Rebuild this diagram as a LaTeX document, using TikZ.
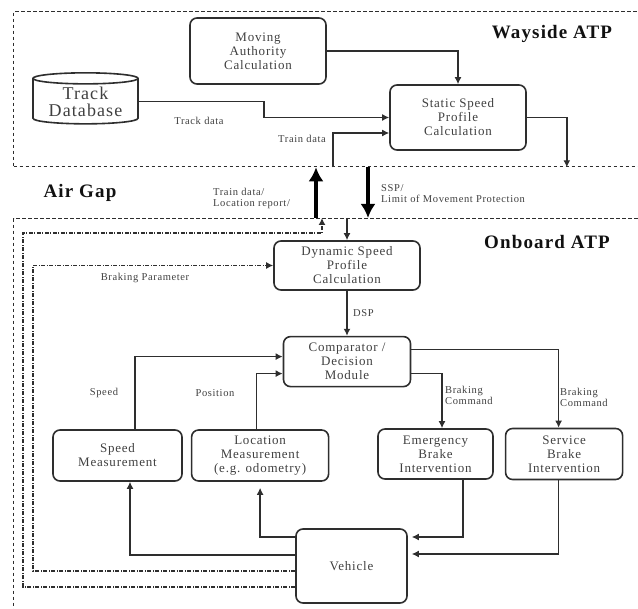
\documentclass[tikz,border=0pt]{standalone}
\usepackage{fontspec}
\setmainfont{Liberation Serif}
\newfontfamily\atpfont[LetterSpace=6]{Liberation Serif}
\usepackage{tikz}
\usetikzlibrary{arrows.meta, positioning, shapes.geometric}
\definecolor{linecolor}{HTML}{2E2E2E}
\definecolor{boxtext}{HTML}{404040}
\definecolor{titlecolor}{HTML}{111111}

\begin{document}
\begin{tikzpicture}[
  x=1pt, y=-1pt,
  box/.style={
    rectangle, rounded corners=7pt, draw=linecolor, line width=1.6pt,
    align=center, inner sep=1pt, text=boxtext,
    font=\atpfont\fontsize{13}{14}\selectfont
  },
  lbl/.style={text=boxtext, inner sep=1pt, font=\atpfont\fontsize{10.5}{11}\selectfont},
  zone/.style={draw=linecolor, line width=1.3pt, dash pattern=on 3.5pt off 2.5pt,
    anchor=north west, inner sep=0pt},
  feedback/.style={-{Latex[length=7pt,width=7pt]}, line width=1.3pt, draw=linecolor,
    dash pattern=on 4pt off 1.5pt on 1pt off 1.5pt},
  title/.style={font=\atpfont\fontsize{19}{20}\selectfont\bfseries, text=titlecolor},
  arr/.style={-{Latex[length=7pt,width=7pt]}, line width=1.5pt, draw=linecolor},
  fat/.style={-{Latex[length=14pt,width=15pt]}, line width=4pt, draw=black},
]
  \path[use as bounding box] (0,0) rectangle (638,609);
  \clip (0,0) rectangle (638,609);

  % Zones
  \node[zone, minimum width=660pt, minimum height=155pt] (wayside) at (13,11) {};
  \node[zone, minimum width=660pt, minimum height=420pt] (onboard) at (13,218) {};

  \node[title] (waysidet) at (552,34)  {Wayside ATP};
  \node[title] (airgap)   at (80,193)  {Air Gap};
  \node[title] (onboardt) at (547,242) {Onboard ATP};

  % Wayside blocks
  \node[box, minimum width=136pt, minimum height=66pt] (ma)  at (258,51)    {Moving\\Authority\\Calculation};
  \node[box, minimum width=136pt, minimum height=65pt] (ssp) at (458,117.5) {Static Speed\\Profile\\Calculation};
  \node[box, cylinder, shape border rotate=90, aspect=0.15, rounded corners=0pt, inner sep=0pt,
        minimum width=105pt, minimum height=51pt, font=\atpfont\fontsize{18}{17}\selectfont]
        (db) at (85.5,101.5) {Track\\Database};

  % Onboard blocks
  \node[box, minimum width=146pt, minimum height=49pt] (dsp) at (347,265.5) {Dynamic Speed\\Profile\\Calculation};
  \node[box, minimum width=127pt, minimum height=50pt, below=45pt of dsp] (comp) {Comparator /\\Decision\\Module};
  \node[box, minimum width=129pt, minimum height=51pt] (speed) at (117.5,455.5) {Speed\\Measurement};
  \node[box, minimum width=137pt, minimum height=51pt, right=8pt of speed] (loc) {Location\\Measurement\\(e.g. odometry)};
  \node[box, minimum width=115pt, minimum height=50pt] (emerg) at (435.5,454) {Emergency\\Brake\\Intervention};
  \node[box, minimum width=117pt, minimum height=51pt, right=11pt of emerg] (service) {Service\\Brake\\Intervention};
  \node[box, minimum width=111pt, minimum height=74pt] (vehicle) at (351.5,566) {Vehicle};

  % Channel positions across the air gap
  \coordinate (upx)   at (316,0);
  \coordinate (downx) at (368,0);
  \coordinate (tdx)   at (333,0);
  \coordinate (ackx)  at (322,0);
  \coordinate (bpin)  at (33,265.5);
  \coordinate (bpout) at (23,233);

  % Wayside arrows
  \draw[arr] (ma.east) -| (ssp.north);
  \draw[arr] (db.east) -- ++(125,0) |- (ssp.west);
  \draw[arr] (wayside.south -| tdx) |- ([yshift=-15.5pt]ssp.west);
  \draw[arr] (ssp.east) -- ++(40,0) coordinate (sspo) -- (sspo |- wayside.south);

  % Air gap
  \draw[fat] (onboard.north -| upx) -- (wayside.south -| upx);
  \draw[fat] (wayside.south -| downx) -- (onboard.north -| downx);

  % Onboard arrows
  \draw[arr] (onboard.north -| dsp.north) -- (dsp.north);
  \draw[arr] (dsp.south) -- (dsp.south |- comp.north);
  \draw[arr] ([xshift=17.5pt]speed.north) |- ([yshift=5pt]comp.west);
  \draw[arr] ([xshift=-3.5pt]loc.north) |- ([yshift=-12pt]comp.west);
  \draw[arr] ([yshift=-12pt]comp.east) -| ([xshift=6.5pt]emerg.north);
  \draw[arr] ([yshift=12pt]comp.east) -| ([xshift=-5.5pt]service.north);
  \draw[arr, shorten >=4pt] ([xshift=27.5pt]emerg.south) |- ([yshift=29pt]vehicle.east);
  \draw[arr, shorten >=4pt] ([xshift=-5.5pt]service.south) |- ([yshift=12pt]vehicle.east);
  \draw[arr] ([yshift=11pt]vehicle.west) -| ([xshift=12.5pt]speed.south);
  \draw[arr, shorten >=6pt] ([yshift=29pt]vehicle.west) -| (loc.south);

  % Feedback loops
  \draw[feedback] ([yshift=-5pt]vehicle.west) -| (bpin) -- (dsp.west);
  \draw[feedback] ([yshift=-21pt]vehicle.west) -| (bpout) -| (onboard.north -| ackx);

  % Labels
  \node[lbl] (ltrack) at (199,121) {Track data};
  \node[lbl] (ltrain) at (302,139) {Train data};
  \node[lbl, align=left, anchor=west] (lup)   at (212,198.5) {Train data/\\Location report/};
  \node[lbl, align=left, anchor=west] (ldown) at (380,193.5) {SSP/\\Limit of Movement Protection};
  \node[lbl] (lbrake) at (145,278) {Braking Parameter};
  \node[lbl, anchor=west] (ldsp) at (352,313) {DSP};
  \node[lbl] (lspeed) at (104,393) {Speed};
  \node[lbl] (lpos)   at (215,393) {Position};
  \node[lbl, align=left, anchor=west] (lcmd1) at (444,395) {Braking\\Command};
  \node[lbl, align=left, anchor=west] (lcmd2) at (559,397) {Braking\\Command};
\end{tikzpicture}
\end{document}
